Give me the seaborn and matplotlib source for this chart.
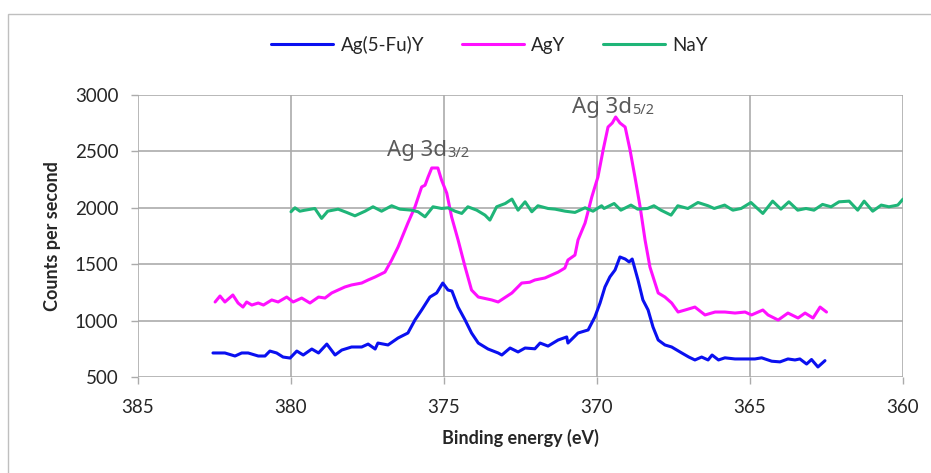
import matplotlib
matplotlib.use("Agg")
import matplotlib.pyplot as plt
import seaborn as sns
import pandas as pd
from matplotlib.patches import Rectangle

# Ag(5-Fu)Y
fu_ev = [382.55, 382.16, 381.83, 381.61, 381.4, 381.07, 380.85, 380.69, 380.47, 380.26,
         380.03, 379.81, 379.6, 379.32, 379.1, 378.83, 378.56, 378.34, 378.02, 377.69,
         377.48, 377.25, 377.16, 376.83, 376.5, 376.18, 375.95, 375.73, 375.46, 375.24,
         375.04, 374.87, 374.74, 374.54, 374.31, 374.1, 373.88, 373.56, 373.23, 373.11,
         372.84, 372.58, 372.35, 372.03, 371.86, 371.6, 371.27, 370.99, 370.95, 370.62,
         370.29, 370.07, 369.9, 369.74, 369.58, 369.41, 369.25, 369.08, 368.95, 368.85,
         368.66, 368.5, 368.33, 368.17, 368.0, 367.78, 367.56, 367.23, 367.0, 366.8,
         366.58, 366.37, 366.24, 366.03, 365.82, 365.49, 365.16, 364.84, 364.62, 364.29,
         364.02, 363.76, 363.53, 363.37, 363.15, 362.99, 362.78, 362.55]
fu_cps = [713, 713, 686, 713, 713, 686, 686, 730, 713, 677,
          668, 730, 695, 748, 713, 792, 695, 739, 766, 766,
          792, 748, 801, 784, 846, 890, 1005, 1094, 1209, 1245,
          1333, 1271, 1262, 1120, 1005, 890, 801, 748, 713, 695,
          757, 722, 757, 750, 801, 774, 828, 855, 801, 890,
          917, 1032, 1156, 1298, 1387, 1449, 1564, 1546, 1520, 1546,
          1360, 1183, 1094, 943, 828, 784, 766, 713, 677, 651,
          677, 651, 695, 651, 670, 660, 660, 660, 670, 640,
          634, 660, 651, 660, 615, 655, 589, 645]

# AgY
ag_ev = [382.48, 382.32, 382.16, 381.9, 381.73, 381.57, 381.45, 381.28, 381.07, 380.9,
         380.63, 380.42, 380.14, 379.93, 379.65, 379.38, 379.1, 378.89, 378.67, 378.46,
         378.24, 378.02, 377.69, 377.48, 377.25, 376.93, 376.71, 376.5, 376.18, 375.95,
         375.73, 375.62, 375.52, 375.4, 375.2, 375.08, 374.91, 374.75, 374.54, 374.31,
         374.1, 373.88, 373.44, 373.23, 372.78, 372.46, 372.2, 372.03, 371.7, 371.27,
         371.05, 370.95, 370.72, 370.62, 370.39, 370.17, 370.07, 369.97, 369.8, 369.64,
         369.5, 369.39, 369.25, 369.08, 368.92, 368.76, 368.59, 368.43, 368.27, 368.0,
         367.78, 367.56, 367.35, 367.12, 366.8, 366.47, 366.14, 365.82, 365.49, 365.16,
         364.95, 364.58, 364.41, 364.08, 363.76, 363.43, 363.2, 362.94, 362.71, 362.5]
ag_cps = [1165, 1218, 1165, 1227, 1156, 1120, 1165, 1138, 1156, 1138,
          1183, 1165, 1209, 1165, 1200, 1156, 1209, 1200, 1245, 1271,
          1298, 1316, 1333, 1360, 1387, 1430, 1537, 1653, 1865, 2007,
          2185, 2200, 2273, 2353, 2353, 2246, 2130, 1918, 1715, 1475,
          1271, 1209, 1183, 1165, 1245, 1333, 1340, 1360, 1378, 1430,
          1466, 1537, 1581, 1715, 1865, 2096, 2185, 2273, 2512, 2716,
          2752, 2805, 2752, 2716, 2512, 2273, 2007, 1715, 1475, 1245,
          1209, 1156, 1076, 1094, 1120, 1050, 1076, 1076, 1067, 1076,
          1050, 1094, 1050, 1005, 1067, 1023, 1067, 1023, 1120, 1076]

# NaY
na_ev = [380.0, 379.87, 379.71, 379.54, 379.22, 379.0, 378.8, 378.46, 378.18, 377.91,
         377.58, 377.32, 377.04, 376.71, 376.44, 376.06, 375.85, 375.62, 375.36, 375.08,
         374.87, 374.64, 374.42, 374.22, 373.93, 373.66, 373.5, 373.28, 373.0, 372.78,
         372.58, 372.35, 372.13, 371.93, 371.6, 371.37, 371.04, 370.72, 370.39, 370.13,
         369.85, 369.77, 369.44, 369.22, 368.89, 368.67, 368.35, 368.14, 367.91, 367.58,
         367.36, 367.03, 366.7, 366.37, 366.17, 365.83, 365.56, 365.29, 364.97, 364.58,
         364.26, 363.99, 363.73, 363.44, 363.17, 362.91, 362.63, 362.35, 362.09, 361.76,
         361.48, 361.27, 360.99, 360.71, 360.46, 360.17, 360.0]
na_cps = [1965, 2000, 1970, 1979, 1994, 1906, 1970, 1988, 1959, 1929,
          1970, 2009, 1970, 2018, 1988, 1979, 1965, 1920, 2009, 1994,
          2000, 1970, 1950, 2009, 1979, 1935, 1891, 2009, 2038, 2077,
          1979, 2053, 1965, 2018, 1994, 1988, 1970, 1959, 2000, 1970,
          2018, 1994, 2038, 1979, 2024, 1988, 1994, 2018, 1979, 1935,
          2018, 1994, 2047, 2018, 1994, 2024, 1979, 1994, 2047, 1950,
          2059, 1988, 2053, 1979, 1994, 1979, 2030, 2009, 2053, 2059,
          1979, 2059, 1970, 2024, 2009, 2024, 2077]

series = ["Ag(5-Fu)Y", "AgY", "NaY"]
colors = ["#0a10f0", "#ff10ff", "#1fb578"]

# peak labels: (x, y, subscript)
peak_labels = [(374.9, 2459, "3/2"), (368.86, 2840, "5/2")]

df = pd.concat([
    pd.DataFrame({"ev": fu_ev, "cps": fu_cps, "sample": series[0]}),
    pd.DataFrame({"ev": ag_ev, "cps": ag_cps, "sample": series[1]}),
    pd.DataFrame({"ev": na_ev, "cps": na_cps, "sample": series[2]}),
])

sns.set_style("white")
plt.rcParams["font.family"] = ["Lato", "DejaVu Sans"]

fig = plt.figure(figsize=(9.31, 4.73), dpi=100)
ax = fig.add_axes([138 / 931, 1 - 377 / 473, 765 / 931, 282 / 473])

sns.lineplot(data=df, x="ev", y="cps", hue="sample", palette=colors, sort=False,
             estimator=None, linewidth=2.2, ax=ax)

ax.set_xlim(385, 360)
ax.set_ylim(500, 3000)
ax.set_xticks([385, 380, 375, 370, 365, 360])
ax.set_yticks([500, 1000, 1500, 2000, 2500, 3000])
ax.grid(True, color="#ababab", linewidth=1.2)
ax.set_axisbelow(True)
for s in ax.spines.values():
    s.set_visible(False)
ax.tick_params(axis="both", length=5, width=1, color="#ababab", labelsize=13.5,
               direction="out", bottom=True, left=True)
ax.tick_params(axis="x", pad=11)
ax.tick_params(axis="y", pad=9)

ax.set_xlabel("Binding energy (eV)", fontsize=13, fontweight="bold", labelpad=9)
ax.set_ylabel("Counts per second", fontsize=13, fontweight="bold", labelpad=10)

for xv, yv, sub in peak_labels:
    ax.text(xv, yv, "Ag 3d", ha="right", va="baseline", fontsize=16,
            color="#595959", family="Noto Sans")
    ax.annotate(sub, (xv, yv), xytext=(0.5, -1), textcoords="offset points",
                ha="left", va="baseline", fontsize=10.5, color="#595959",
                family="Noto Sans")

ax.legend_.remove()
handles, _ = ax.get_legend_handles_labels()
fig.legend(handles, series, loc="center", bbox_to_anchor=(0.526, 0.905), ncol=3,
           frameon=False, fontsize=13.5, handlelength=3.3, columnspacing=2.0,
           handletextpad=0.4)

fig.patches.append(Rectangle((8 / 931, -0.1), 1.2, 1 - 14 / 473 + 0.1,
                             transform=fig.transFigure, fill=False,
                             edgecolor="#bfbfbf", linewidth=1))

fig.savefig("out.png", dpi=100)
